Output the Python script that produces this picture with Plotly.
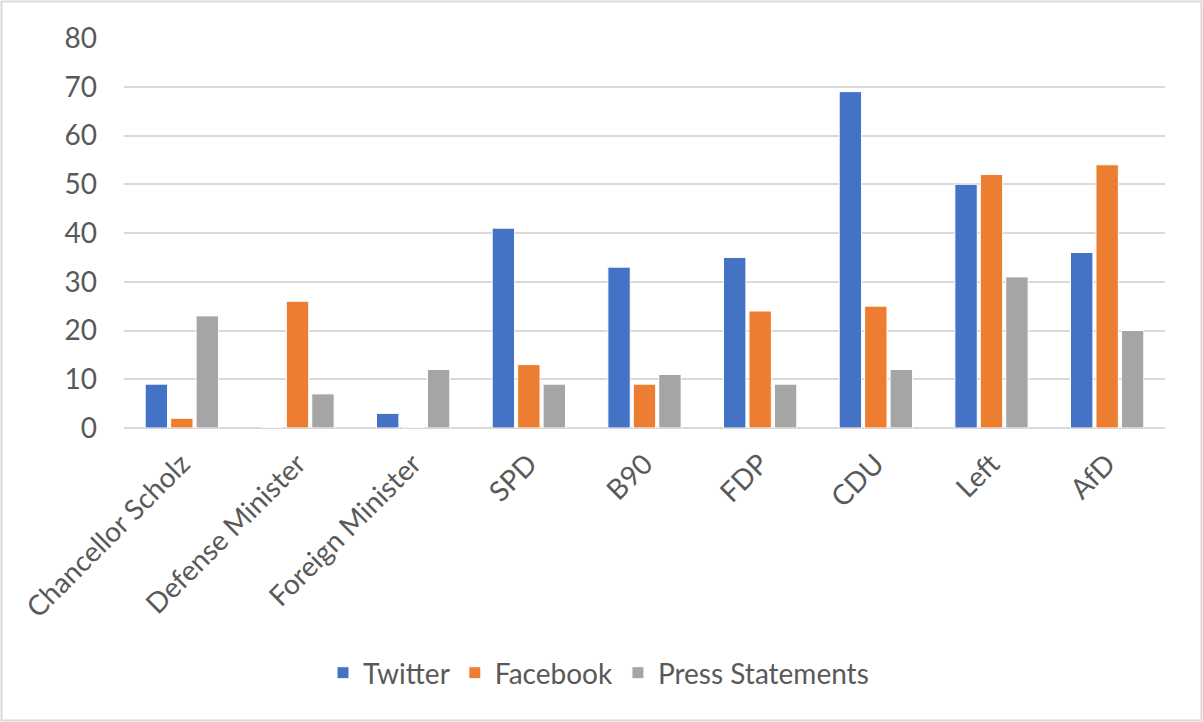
import plotly.graph_objects as go

categories = ["Chancellor Scholz", "Defense Minister", "Foreign Minister", "SPD", "B90",
              "FDP", "CDU", "Left", "AfD"]
twitter = [9, 0, 3, 41, 33, 35, 69, 50, 36]
facebook = [2, 26, 0, 13, 9, 24, 25, 52, 54]
press = [23, 7, 12, 9, 11, 9, 12, 31, 20]

series = [("Twitter", twitter, "#4472C4"),
          ("Facebook", facebook, "#ED7D31"),
          ("Press Statements", press, "#A5A5A5")]

W, H = 1203, 722
ML, MR, MT, MB = 124, 38, 38, 294
PW, PH = W - ML - MR, H - MT - MB

fig = go.Figure()
for name, vals, color in series:
    fig.add_trace(go.Bar(x=categories, y=vals, name=name,
                         marker=dict(color=color, line=dict(color="white", width=1))))

font_family = "Lato, 'Open Sans', sans-serif"
FS = 28
fig.update_layout(
    width=W, height=H,
    margin=dict(l=ML, r=MR, t=MT, b=MB, pad=0),
    paper_bgcolor="white", plot_bgcolor="white",
    barmode="group", bargap=0.34, bargroupgap=0.12,
    font=dict(family=font_family, size=FS, color="#595959"),
    xaxis=dict(tickangle=-45, showgrid=False, showline=False, ticks="",
               ticklabelstandoff=13,
               tickfont=dict(size=FS, color="#595959")),
    yaxis=dict(range=[0, 80], dtick=10, showgrid=True, gridcolor="#D9D9D9", gridwidth=2,
               zeroline=True, zerolinecolor="#D9D9D9", zerolinewidth=2,
               showline=False, ticks="", ticklabelstandoff=26,
               tickfont=dict(size=FS, color="#595959")),
    legend=dict(orientation="h", x=(323 - ML) / PW, xanchor="left",
                y=(428 - 673) / PH, yanchor="middle",
                font=dict(size=FS, color="#595959"), itemwidth=30, traceorder="normal"),
    shapes=[dict(type="rect", xref="paper", yref="paper",
                 x0=(1.5 - ML) / PW, x1=(W - 1.5 - ML) / PW,
                 y0=(MT + PH - (H - 1.5)) / PH, y1=(MT + PH - 1.5) / PH,
                 line=dict(color="#D9D9D9", width=2), fillcolor="rgba(0,0,0,0)", layer="below")],
)

fig.write_html("out.html")
